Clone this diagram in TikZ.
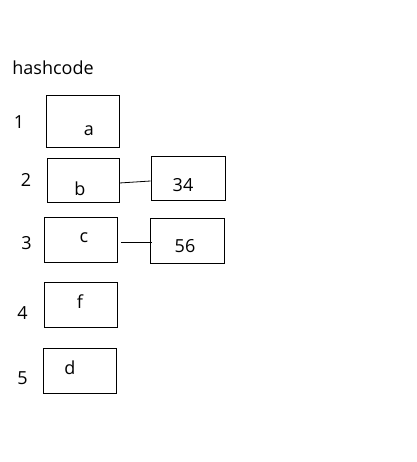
\documentclass[tikz,border=0pt]{standalone}
\usepackage{fontspec}
\setmainfont{Open Sans}
\begin{document}
\begin{tikzpicture}[
    x=1pt,y=-1pt,
    cell/.style={draw,line width=0.8pt,minimum width=73pt,minimum height=45pt,inner sep=0pt},
    txt/.style={inner sep=0pt},
    link/.style={line width=0.8pt},
    font=\fontsize{18}{21}\selectfont
    ]
    \useasboundingbox (0,0) rectangle (416,462);
    \node[txt] (title) at (53,68) {hashcode};
    % slot numbers
    \foreach \n/\x/\y in {1/19/122.5,2/26/180,3/26.5/243,4/22.5/313.5,5/22.5/378.5}
    {\node[txt] (n\n) at (\x,\y) {\n};}
    % buckets
    \node[cell,minimum height=52pt] (a) at (82.5,121) {};
    \node[cell,minimum width=72pt,minimum height=44pt] (b) at (83,180) {};
    \node[cell] (c) at (81,239.5) {};
    \node[cell] (f) at (81,304.5) {};
    \node[cell] (d) at (80,370.5) {};
    \node[txt] (ta) at (89,130.5) {a};
    \node[txt] (tb) at (80,189) {b};
    \node[txt] (tc) at (84,238) {c};
    \node[txt] (tf) at (80,301.5) {f};
    \node[txt] (td) at (70,367.5) {d};
    % chained values
    \node[cell,minimum width=74pt,minimum height=44pt] (v34) at (188,178) {};
    \node[cell,minimum width=74pt] (v56) at (187,240.5) {};
    \node[txt] (t34) at (183,185) {34};
    \node[txt] (t56) at (185,246.5) {56};
    \draw[link] ([yshift=-3pt]b.east) -- ([yshift=-3pt]v34.west);
    \draw[link] ([xshift=3pt,yshift=-2.5pt]c.east) -- ([xshift=2pt,yshift=-1.5pt]v56.west);
\end{tikzpicture}
\end{document}
